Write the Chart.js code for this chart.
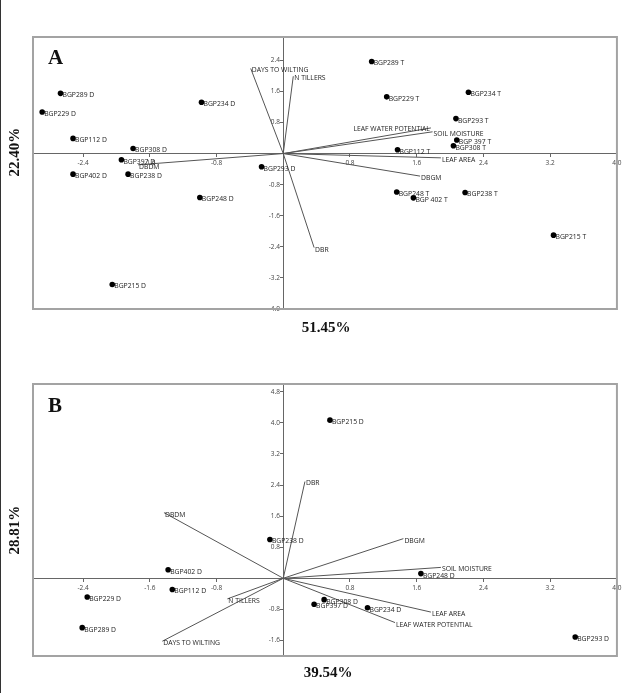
<!DOCTYPE html>
<html>
<head>
<meta charset="utf-8">
<script src="https://cdn.jsdelivr.net/npm/chart.js@4/dist/chart.umd.min.js"></script>
<style>
  body { margin: 0; background: #fff; }
  #page { position: relative; width: 624px; height: 693px; overflow: hidden; background: #fff; }
  #edge { position: absolute; left: 0; top: 0; width: 1px; height: 693px; background: #333; }
  canvas { position: absolute; left: 0; }
  .lbl { position: absolute; font-family: "Liberation Serif", serif; font-weight: bold; color: #111; white-space: nowrap; line-height: 1; }
  .pct { font-size: 15px; transform: translate(-50%, -50%); }
  .rot { transform: translate(-50%, -50%) rotate(-90deg); }
  .panel { font-size: 21px; }
</style>
</head>
<body>
<div id="page">
  <div id="edge"></div>
  <canvas id="chartA" width="624" height="346" style="top:0"></canvas>
  <canvas id="chartB" width="624" height="347" style="top:346px"></canvas>
  <div class="lbl panel" style="left:48px;top:47px">A</div>
  <div class="lbl panel" style="left:48px;top:395px">B</div>
  <div class="lbl pct rot" style="left:14px;top:152px">22.40%</div>
  <div class="lbl pct" style="left:326px;top:327px">51.45%</div>
  <div class="lbl pct rot" style="left:14px;top:530px">28.81%</div>
  <div class="lbl pct" style="left:328px;top:672px">39.54%</div>
</div>
<script>
// tick labels shared by both plots
const xTicks = [-2.4, -1.6, -0.8, 0.8, 1.6, 2.4, 3.2, 4.0];
const yTicksA = [2.4, 1.6, 0.8, -0.8, -1.6, -2.4, -3.2, -4.0];
const yTicksB = [4.8, 4.0, 3.2, 2.4, 1.6, 0.8, -0.8, -1.6];

// panel A - genotype scores
const genotypesA = ['BGP289 D', 'BGP229 D', 'BGP234 D', 'BGP112 D', 'BGP308 D', 'BGP397 D', 'BGP402 D',
  'BGP238 D', 'BGP293 D', 'BGP248 D', 'BGP215 D', 'BGP289 T', 'BGP229 T', 'BGP234 T', 'BGP293 T',
  'BGP 397 T', 'BGP308 T', 'BGP112 T', 'BGP248 T', 'BGP 402 T', 'BGP238 T', 'BGP215 T'];
const scoreA1 = [-2.67, -2.89, -0.98, -2.52, -1.80, -1.94, -2.52, -1.86, -0.26, -1.00, -2.05,
  1.06, 1.24, 2.22, 2.07, 2.08, 2.04, 1.37, 1.36, 1.56, 2.18, 3.24];
const scoreA2 = [1.55, 1.07, 1.32, 0.39, 0.13, -0.16, -0.53, -0.53, -0.34, -1.13, -3.37,
  2.37, 1.46, 1.58, 0.90, 0.35, 0.20, 0.10, -0.99, -1.14, -1.00, -2.10];

// panel A - trait loadings
const traitsA = ['DAYS TO WILTING', 'N TILLERS', 'DBDM', 'DBR', 'LEAF WATER POTENTIAL', 'SOIL MOISTURE', 'LEAF AREA', 'DBGM'];
const loadA1 = [-0.39, 0.12, -1.74, 0.37, 1.77, 1.79, 1.89, 1.64];
const loadA2 = [2.19, 1.99, -0.29, -2.42, 0.66, 0.56, -0.11, -0.58];

// panel B - genotype scores
const genotypesB = ['BGP215 D', 'BGP238 D', 'BGP402 D', 'BGP112 D', 'BGP229 D', 'BGP289 D',
  'BGP308 D', 'BGP397 D', 'BGP234 D', 'BGP248 D', 'BGP293 D'];
const scoreB1 = [0.56, -0.16, -1.38, -1.33, -2.35, -2.41, 0.49, 0.37, 1.01, 1.65, 3.50];
const scoreB2 = [4.07, 1.00, 0.22, -0.29, -0.48, -1.27, -0.55, -0.67, -0.76, 0.12, -1.51];

// panel B - trait loadings
const traitsB = ['DBR', 'DBDM', 'N TILLERS', 'DAYS TO WILTING', 'DBGM', 'SOIL MOISTURE', 'LEAF AREA', 'LEAF WATER POTENTIAL'];
const loadB1 = [0.26, -1.43, -0.67, -1.45, 1.44, 1.89, 1.77, 1.34];
const loadB2 = [2.49, 1.69, -0.53, -1.62, 1.02, 0.28, -0.87, -1.14];

const TEXT_FONT = '"Open Sans", "DejaVu Sans", sans-serif';

// draws genotype names next to dots and trait names at vector tips, plus the grey frame
const biplotLabels = {
  id: 'biplotLabels',
  afterDatasetsDraw(chart) {
    const ctx = chart.ctx;
    const area = chart.chartArea;
    ctx.save();
    ctx.font = '6.8px ' + TEXT_FONT;
    ctx.fillStyle = '#222';
    ctx.textBaseline = 'middle';
    chart.data.datasets.forEach((ds, i) => {
      const meta = chart.getDatasetMeta(i);
      if (ds.names) {
        ctx.textAlign = 'left';
        meta.data.forEach((el, j) => ctx.fillText(ds.names[j], el.x + 2, el.y + 2));
      }
      if (ds.trait) {
        const tip = meta.data[1];
        if (ds.alignRight) {
          ctx.textAlign = 'right';
          ctx.fillText(ds.trait, tip.x - 1, tip.y + 1);
        } else {
          ctx.textAlign = 'left';
          ctx.fillText(ds.trait, tip.x + 1, tip.y + 2);
        }
      }
    });
    ctx.strokeStyle = '#a3a3a3';
    ctx.lineWidth = 2;
    ctx.strokeRect(area.left, area.top, area.right - area.left, area.bottom - area.top);
    ctx.restore();
  }
};

function tickSetter(values) {
  return axis => { axis.ticks = values.map(v => ({ value: v })); };
}

function makeBiplot(id, names, s1, s2, traits, l1, l2, yMin, yMax, yTicks, pad, rightAligned) {
  const datasets = [];
  traits.forEach((t, i) => {
    datasets.push({
      type: 'scatter',
      trait: t,
      alignRight: rightAligned.includes(t),
      data: [{ x: 0, y: 0 }, { x: l1[i], y: l2[i] }],
      showLine: true,
      borderColor: '#555',
      borderWidth: 1,
      pointRadius: 0
    });
  });
  datasets.push({
    type: 'scatter',
    names: names,
    data: names.map((n, i) => ({ x: s1[i], y: s2[i] })),
    pointRadius: 2.8,
    backgroundColor: '#000',
    borderWidth: 0
  });

  return new Chart(document.getElementById(id), {
    type: 'scatter',
    data: { datasets: datasets },
    options: {
      responsive: false,
      animation: false,
      devicePixelRatio: 1,
      layout: { padding: pad },
      plugins: { legend: { display: false }, tooltip: { enabled: false } },
      scales: {
        x: {
          type: 'linear',
          min: -3, max: 4,
          position: { y: 0 },
          afterBuildTicks: tickSetter(xTicks),
          border: { display: true, color: '#666', width: 1 },
          grid: { display: true, drawOnChartArea: false, drawTicks: true, tickLength: 3, color: '#666' },
          ticks: {
            autoSkip: false, maxRotation: 0, padding: 2.5,
            color: '#444', font: { family: TEXT_FONT, size: 6.5 },
            callback: v => v.toFixed(1)
          }
        },
        y: {
          type: 'linear',
          min: yMin, max: yMax,
          position: { x: 0 },
          afterBuildTicks: tickSetter(yTicks),
          border: { display: true, color: '#666', width: 1 },
          grid: { display: true, drawOnChartArea: false, drawTicks: true, tickLength: 3, color: '#666' },
          ticks: {
            autoSkip: false, padding: 1,
            color: '#444', font: { family: TEXT_FONT, size: 6.5 },
            // label sits right-aligned on the axis line, so leave room for the tick mark
            callback: v => v.toFixed(1) + '\u2002'
          }
        }
      }
    },
    plugins: [biplotLabels]
  });
}

makeBiplot('chartA', genotypesA, scoreA1, scoreA2, traitsA, loadA1, loadA2, -4, 3, yTicksA,
  { left: 33, top: 37, right: 4, bottom: 37 }, ['LEAF WATER POTENTIAL']);
makeBiplot('chartB', genotypesB, scoreB1, scoreB2, traitsB, loadB1, loadB2, -2, 5, yTicksB,
  { left: 33, top: 38, right: 4, bottom: 37 }, []);
</script>
</body>
</html>
